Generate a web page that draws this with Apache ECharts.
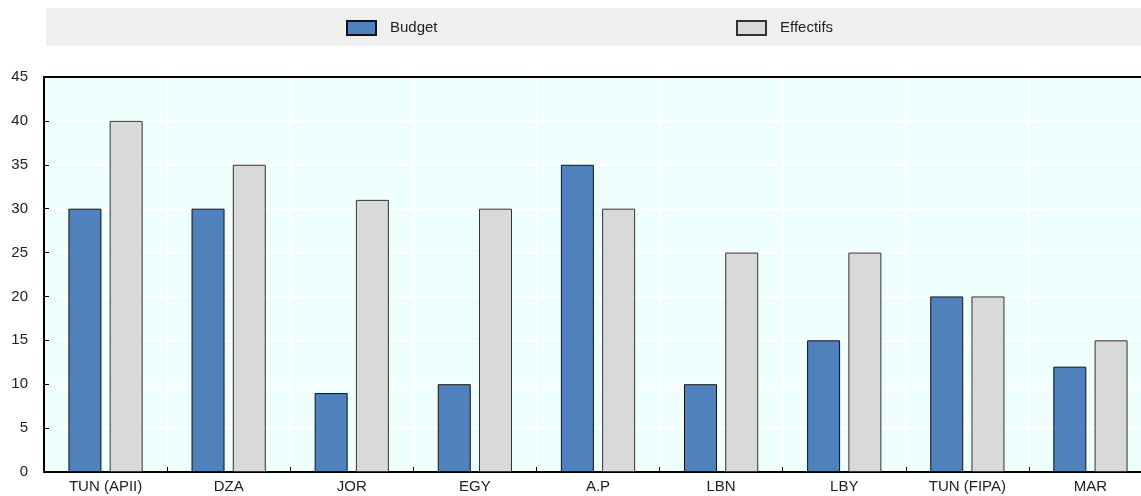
<!DOCTYPE html>
<html>
<head>
<meta charset="utf-8">
<script src="https://cdn.jsdelivr.net/npm/echarts@6/dist/echarts.min.js"></script>
<style>html,body{margin:0;padding:0;background:#fff;overflow:hidden;width:1141px;height:496px}#c{width:1152px;height:496px}</style>
</head>
<body>
<div id="c"></div>
<script>
const categories = ["TUN (APII)", "DZA", "JOR", "EGY", "A.P", "LBN", "LBY", "TUN (FIPA)", "MAR"];
const budget = [30, 30, 9, 10, 35, 10, 15, 20, 12];
const effectifs = [40, 35, 31, 30, 30, 25, 25, 20, 15];
const seriesNames = ["Budget", "Effectifs"];

const chart = echarts.init(document.getElementById('c'), null, {renderer: 'canvas'});
const font = 'Liberation Sans, Arial, sans-serif';
const legendCommon = {top: 15, itemWidth: 29, itemHeight: 14, itemGap: 0, icon: 'rect',
  textStyle: {fontFamily: font, fontSize: 15, color: '#222', padding: [0, 0, 0, 9]}};
chart.setOption({
  animation: false,
  graphic: [{type: 'rect', shape: {x: 46, y: 8, width: 1106, height: 38}, style: {fill: '#efefef'}, z: -1}],
  legend: [
    Object.assign({data: [seriesNames[0]], left: 341}, legendCommon),
    Object.assign({data: [seriesNames[1]], left: 731}, legendCommon)
  ],
  grid: {left: 44, top: 77, width: 1108, height: 395, show: true, backgroundColor: '#effffe', borderWidth: 0, containLabel: false},
  xAxis: [{
    type: 'category', data: categories,
    axisLine: {lineStyle: {color: '#000', width: 2}},
    axisTick: {show: true, inside: true, length: 5, lineStyle: {color: '#000'}},
    axisLabel: {fontFamily: font, fontSize: 15, color: '#222', margin: 7},
    splitLine: {show: true, lineStyle: {color: '#fff', width: 2}}
  }, {
    type: 'category', data: categories, position: 'top',
    axisLine: {lineStyle: {color: '#000', width: 2}},
    axisTick: {show: false}, axisLabel: {show: false}, splitLine: {show: false}
  }],
  yAxis: {
    type: 'value', min: 0, max: 45, interval: 5,
    axisLine: {show: true, lineStyle: {color: '#000', width: 2}},
    axisTick: {show: true, inside: true, length: 5, lineStyle: {color: '#000'}},
    axisLabel: {fontFamily: font, fontSize: 15, color: '#222', margin: 16},
    splitLine: {show: true, lineStyle: {color: '#fff', width: 2}}
  },
  series: [
    {name: seriesNames[0], type: 'bar', data: budget, barWidth: 33, barGap: '25%',
     itemStyle: {color: '#4f81bd', borderColor: '#111', borderWidth: 1}},
    {name: seriesNames[1], type: 'bar', data: effectifs, barWidth: 33,
     itemStyle: {color: '#d9d9d9', borderColor: '#333', borderWidth: 1}}
  ]
});
</script>
</body>
</html>
